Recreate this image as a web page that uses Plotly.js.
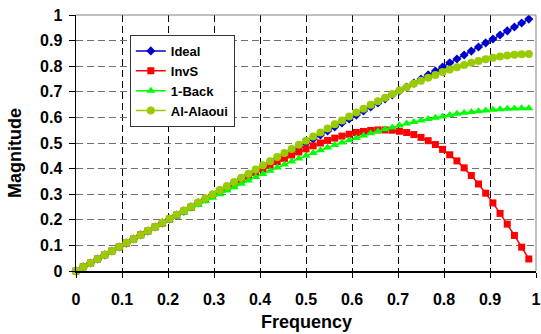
<!DOCTYPE html>
<html>
<head>
<meta charset="utf-8">
<script src="https://cdn.plot.ly/plotly-3.0.1.min.js"></script>
<style>html,body{margin:0;padding:0;background:#fff;}#chart{width:541px;height:334px;}</style>
</head>
<body>
<div id="chart"></div>
<script>
var frequency = [0,0.0156,0.0313,0.0469,0.0625,0.0781,0.0938,0.1094,0.125,0.1406,0.1563,0.1719,0.1875,0.2031,0.2188,0.2344,0.25,0.2656,0.2813,0.2969,0.3125,0.3281,0.3438,0.3594,0.375,0.3906,0.4063,0.4219,0.4375,0.4531,0.4688,0.4844,0.5,0.5156,0.5313,0.5469,0.5625,0.5781,0.5938,0.6094,0.625,0.6406,0.6563,0.6719,0.6875,0.7031,0.7188,0.7344,0.75,0.7656,0.7813,0.7969,0.8125,0.8281,0.8438,0.8594,0.875,0.8906,0.9063,0.9219,0.9375,0.9531,0.9688,0.9844];
var ideal = [0,0.016,0.031,0.047,0.063,0.078,0.094,0.109,0.125,0.141,0.156,0.172,0.188,0.203,0.219,0.234,0.25,0.266,0.281,0.297,0.313,0.328,0.344,0.359,0.375,0.391,0.406,0.422,0.438,0.453,0.469,0.484,0.5,0.516,0.531,0.547,0.563,0.578,0.594,0.609,0.625,0.641,0.656,0.672,0.688,0.703,0.719,0.734,0.75,0.766,0.781,0.797,0.813,0.828,0.844,0.859,0.875,0.891,0.906,0.922,0.938,0.953,0.969,0.984];
var invS = [0,0.016,0.031,0.047,0.063,0.078,0.094,0.109,0.125,0.141,0.156,0.172,0.187,0.203,0.218,0.234,0.249,0.265,0.280,0.295,0.311,0.326,0.341,0.356,0.370,0.385,0.399,0.413,0.427,0.440,0.453,0.465,0.477,0.489,0.500,0.510,0.519,0.527,0.534,0.541,0.545,0.549,0.551,0.551,0.550,0.546,0.541,0.533,0.522,0.509,0.494,0.475,0.454,0.430,0.403,0.373,0.340,0.304,0.266,0.225,0.183,0.139,0.093,0.047];
var oneBack = [0,0.016,0.031,0.047,0.062,0.078,0.093,0.109,0.124,0.139,0.155,0.170,0.185,0.200,0.214,0.229,0.244,0.258,0.272,0.286,0.300,0.314,0.327,0.341,0.354,0.367,0.379,0.392,0.404,0.416,0.428,0.439,0.450,0.461,0.472,0.482,0.492,0.502,0.511,0.520,0.529,0.538,0.546,0.554,0.561,0.569,0.576,0.582,0.588,0.594,0.599,0.604,0.609,0.614,0.618,0.621,0.624,0.627,0.630,0.632,0.634,0.635,0.636,0.636];
var alAlaoui = [0,0.016,0.031,0.047,0.063,0.078,0.094,0.110,0.125,0.141,0.157,0.172,0.188,0.204,0.220,0.236,0.252,0.268,0.284,0.300,0.316,0.332,0.348,0.364,0.380,0.396,0.413,0.429,0.445,0.461,0.477,0.493,0.509,0.525,0.541,0.557,0.573,0.588,0.604,0.619,0.634,0.649,0.663,0.677,0.691,0.705,0.718,0.731,0.743,0.755,0.766,0.777,0.787,0.796,0.805,0.813,0.820,0.827,0.833,0.838,0.842,0.845,0.847,0.848];
var seriesNames = ["Ideal","InvS","1-Back","Al-Alaoui"];
var tickVals = [0,0.1,0.2,0.3,0.4,0.5,0.6,0.7,0.8,0.9,1];
var tickText = ["0","0.1","0.2","0.3","0.4","0.5","0.6","0.7","0.8","0.9","1"];

var F = "Liberation Sans, Arial, sans-serif";
var traces = [
  {x: frequency, y: ideal, name: seriesNames[0], mode: "lines+markers",
   line: {color: "#0000CC", width: 1.5}, marker: {symbol: "diamond", size: 7, color: "#0000CC"}},
  {x: frequency, y: invS, name: seriesNames[1], mode: "lines+markers",
   line: {color: "#FF0000", width: 1.5}, marker: {symbol: "square", size: 7, color: "#FF0000"}},
  {x: frequency, y: oneBack, name: seriesNames[2], mode: "lines+markers",
   line: {color: "#00FF00", width: 1.5}, marker: {symbol: "triangle-up", size: 8, color: "#00FF00"}},
  {x: frequency, y: alAlaoui, name: seriesNames[3], mode: "lines+markers",
   line: {color: "#99CC00", width: 1.5}, marker: {symbol: "circle", size: 8, color: "#99CC00"}}
];
traces.forEach(function(t){ t.cliponaxis = false; });

var layout = {
  width: 541, height: 334,
  margin: {l: 76, r: 5, t: 15, b: 63},
  paper_bgcolor: "#fff", plot_bgcolor: "#fff",
  font: {family: F, color: "#000"},
  showlegend: true,
  legend: {x: 0.117, y: 0.922, xanchor: "left", yanchor: "top",
    bgcolor: "#fff", bordercolor: "#333", borderwidth: 1,
    font: {family: F, size: 13, weight: "bold", color: "#000"},
    itemwidth: 30, tracegroupgap: 0},
  xaxis: {range: [0, 1], tickvals: tickVals, ticktext: tickText,
    showline: true, linecolor: "#000", linewidth: 1.5,
    ticks: "outside", ticklen: 5, tickcolor: "#000", ticklabelstandoff: 8,
    showgrid: true, gridcolor: "#000", gridwidth: 1, griddash: "7px,4px",
    zeroline: false, tickfont: {family: F, size: 16, weight: "bold", color: "#000"}},
  yaxis: {range: [0, 1], tickvals: tickVals, ticktext: tickText,
    showline: true, linecolor: "#000", linewidth: 1.5,
    ticks: "outside", ticklen: 6, tickcolor: "#000", ticklabelstandoff: 3,
    showgrid: true, gridcolor: "#707070", gridwidth: 1, griddash: "7px,4px",
    zeroline: false, tickfont: {family: F, size: 16, weight: "bold", color: "#000"}},
  shapes: [
    {type: "line", xref: "paper", yref: "paper", x0: 0, x1: 1, y0: 1, y1: 1, line: {color: "#808080", width: 1}},
    {type: "line", xref: "paper", yref: "paper", x0: 1, x1: 1, y0: 0, y1: 1, line: {color: "#808080", width: 1}}
  ],
  annotations: [
    {text: "Frequency", xref: "paper", yref: "paper", x: 0.5, y: -0.198, xanchor: "center", yanchor: "middle",
     showarrow: false, font: {family: F, size: 18, weight: "bold", color: "#000"}},
    {text: "Magnitude", xref: "paper", yref: "paper", x: -0.1326, y: 0.461, xanchor: "center", yanchor: "middle",
     textangle: -90, showarrow: false, font: {family: F, size: 18, weight: "bold", color: "#000"}}
  ]
};
Plotly.newPlot("chart", traces, layout, {displayModeBar: false, staticPlot: true});
</script>
</body>
</html>
